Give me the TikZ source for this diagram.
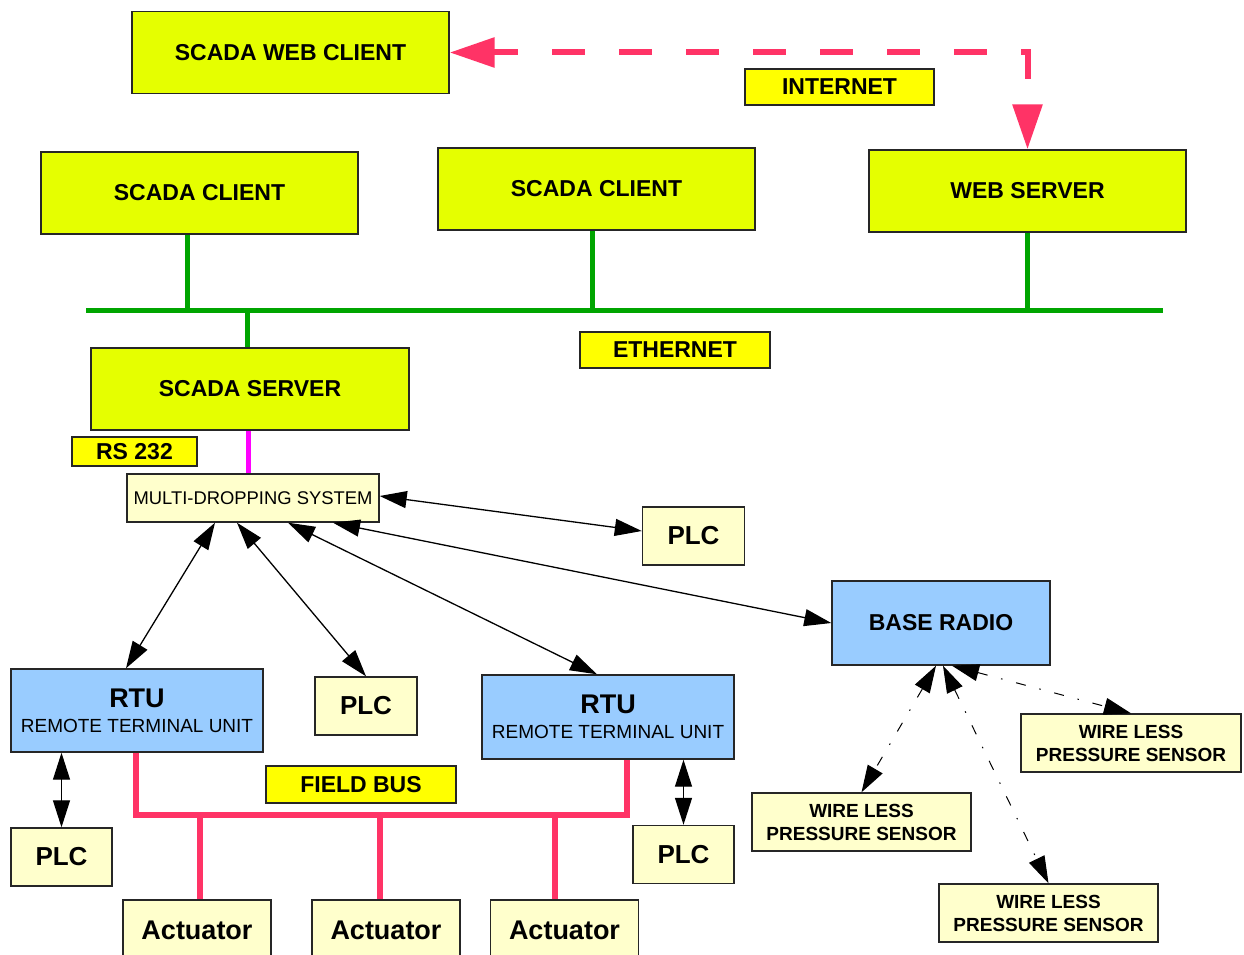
\documentclass[tikz,border=0pt]{standalone}
\usepackage{fontspec}
\setmainfont{Liberation Sans}
\usetikzlibrary{arrows.meta}

\definecolor{scadalime}{RGB}{229,255,0}
\definecolor{tagyellow}{RGB}{255,255,0}
\definecolor{devcream}{RGB}{255,255,204}
\definecolor{unitblue}{RGB}{153,204,255}
\definecolor{ethgreen}{RGB}{0,165,0}
\definecolor{buspink}{RGB}{255,51,102}
\definecolor{rsmagenta}{RGB}{255,0,255}

\begin{document}
\begin{tikzpicture}[x=1pt,y=-1pt,
  tipA/.tip={Triangle[length=27pt,width=17pt]},
  tipNet/.tip={Triangle[length=45pt,width=29pt]},
  box/.style={draw=black!85, line width=1.4pt, inner sep=0pt, align=center, text=black},
  head/.style={box, fill=scadalime, minimum width=317pt, minimum height=82pt,
    font=\fontsize{23}{26}\selectfont\bfseries},
  tag/.style={box, fill=tagyellow, font=\fontsize{23}{26}\selectfont\bfseries},
  dev/.style={box, fill=devcream},
  plcbox/.style={dev, minimum width=102pt, minimum height=58pt,
    font=\fontsize{26}{28}\selectfont\bfseries},
  actbox/.style={dev, minimum width=148pt, minimum height=60pt,
    font=\fontsize{27}{29}\selectfont\bfseries},
  sensor/.style={dev, minimum width=220pt, minimum height=58pt,
    font=\fontsize{19}{23}\selectfont\bfseries},
  unit/.style={box, fill=unitblue, font=\fontsize{19}{25}\selectfont},
  eth/.style={draw=ethgreen, line width=5pt},
  fbus/.style={draw=buspink, line width=6pt, line join=miter},
  rsline/.style={draw=rsmagenta, line width=5pt},
  inet/.style={draw=buspink, line width=6pt, dash pattern=on 33pt off 34pt,
    dash phase=8pt, arrows={tipNet-tipNet}},
  bi/.style={draw=black, line width=1.3pt, arrows={tipA-tipA}},
  wire/.style={draw=black, line width=1pt,
    dash pattern=on 10pt off 14pt on 1.5pt off 14pt, arrows={tipA-tipA}},
]
\fill[white] (0,0) rectangle (1244,955);
\path[use as bounding box, clip] (0,0) rectangle (1244,955);

% upper level: clients and servers
\node[head] (webclient) at (290.5,52.5) {SCADA WEB CLIENT};
\node[tag, minimum width=189pt, minimum height=36pt] (internet) at (839.5,87) {INTERNET};
\node[head] (client1) at (199.5,193) {SCADA CLIENT};
\node[head] (client2) at (596.5,189) {SCADA CLIENT};
\node[head] (webserver) at (1027.5,191) {WEB SERVER};
\node[tag, minimum width=190pt, minimum height=36pt] (ethernet) at (675,350) {ETHERNET};
\node[head, minimum width=318pt] (server) at (250,389) {SCADA SERVER};
\node[tag, minimum width=125pt, minimum height=29pt] (rs232) at (134.5,451.5) {RS 232};

% field level
\node[dev, minimum width=252pt, minimum height=48pt, font=\fontsize{18.4}{20}\selectfont]
  (mds) at (253,498) {MULTI-DROPPING SYSTEM};
\node[plcbox] (plc1) at (693.5,536) {PLC};
\node[box, fill=unitblue, minimum width=218pt, minimum height=84pt,
  font=\fontsize{23}{26}\selectfont\bfseries] (radio) at (941,623) {BASE RADIO};
\node[unit, minimum width=252pt, minimum height=83pt] (rtu1) at (137,710.5)
  {\fontsize{27}{27}\selectfont\bfseries RTU\\\fontsize{19}{25}\selectfont\mdseries REMOTE TERMINAL UNIT};
\node[plcbox] (plc2) at (366,706) {PLC};
\node[unit, minimum width=252pt, minimum height=84pt] (rtu2) at (608,717)
  {\fontsize{27}{27}\selectfont\bfseries RTU\\\fontsize{19}{25}\selectfont\mdseries REMOTE TERMINAL UNIT};
\node[tag, minimum width=190pt, minimum height=37pt] (fieldbus) at (361,784.5) {FIELD BUS};
\node[plcbox, minimum width=101pt] (plc3) at (61.5,857) {PLC};
\node[plcbox, minimum width=101pt] (plc4) at (683.5,854.5) {PLC};
\node[actbox] (act1) at (197,930) {Actuator};
\node[actbox] (act2) at (386,930) {Actuator};
\node[actbox] (act3) at (564.5,930) {Actuator};
\node[sensor] (wlps1) at (1131,743) {WIRE LESS\\PRESSURE SENSOR};
\node[sensor, minimum width=219pt] (wlps2) at (861.5,822) {WIRE LESS\\PRESSURE SENSOR};
\node[sensor, minimum width=219pt] (wlps3) at (1048.5,913) {WIRE LESS\\PRESSURE SENSOR};

% internet link between web client and web server
\draw[inet] (webclient.east) -| (webserver.north);

% ethernet backbone
\coordinate (ethL) at (86,310);
\coordinate (ethR) at (1163,310);
\draw[eth] (ethL) -- (ethR);
\draw[eth] ([xshift=-12.5pt]client1.south) |- (ethL);
\draw[eth] ([xshift=-4.5pt]client2.south) |- (ethL);
\draw[eth] (webserver.south) |- (ethR);
\draw[eth] ([xshift=-3pt]server.north) |- (ethL);

% serial link
\draw[rsline] ([xshift=-2pt]server.south) -- ([xshift=-5pt]mds.north);

% multi-drop connections
\draw[bi] ([yshift=2pt]mds.east) -- ([yshift=5pt]plc1.west);
\draw[bi] ([xshift=-38pt]mds.south) -- ([xshift=-11pt]rtu1.north);
\draw[bi] ([xshift=-16pt]mds.south) -- (plc2.north);
\draw[bi] ([xshift=35pt]mds.south) -- ([xshift=-11pt]rtu2.north);
\draw[bi] ([xshift=80pt]mds.south) -- (radio.west);
\draw[bi] (plc3.north |- rtu1.south) -- (plc3.north);
\draw[bi] (plc4.north |- rtu2.south) -- (plc4.north);

% wireless links
\draw[wire] ([xshift=-5pt]radio.south) -- (wlps2.north);
\draw[wire] ([xshift=2pt]radio.south) -- (wlps3.north);
\draw[wire] ([xshift=11pt]radio.south) -- (wlps1.north);

% field bus
\coordinate (fbY) at (380,815);
\draw[fbus] ([xshift=-1pt]rtu1.south) |- (fbY) -| ([xshift=19pt]rtu2.south);
\draw[fbus] ([xshift=3pt]act1.north) |- (fbY);
\draw[fbus] ([xshift=-6pt]act2.north) |- (fbY);
\draw[fbus] ([xshift=-9.5pt]act3.north) |- (fbY);
\end{tikzpicture}
\end{document}
